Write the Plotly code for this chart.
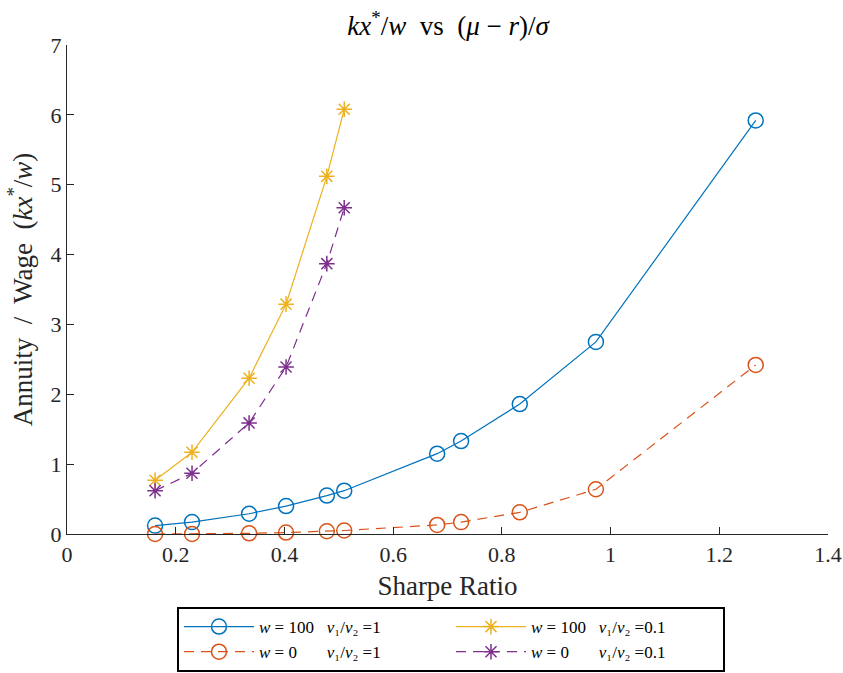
import plotly.graph_objects as go

sharpe = [0.162, 0.230, 0.335, 0.403, 0.478, 0.510, 0.681, 0.725, 0.833, 0.973, 1.267]
w100_v1 = [0.12, 0.17, 0.29, 0.40, 0.55, 0.62, 1.15, 1.33, 1.86, 2.75, 5.92]
w0_v1 = [0.0, 0.0, 0.01, 0.02, 0.04, 0.05, 0.13, 0.17, 0.31, 0.64, 2.42]
sharpe_short = [0.162, 0.230, 0.335, 0.403, 0.478, 0.510]
w100_v01 = [0.77, 1.17, 2.23, 3.29, 5.12, 6.08]
w0_v01 = [0.62, 0.87, 1.59, 2.39, 3.87, 4.67]

blue = "#0072BD"
orange = "#D95319"
yellow = "#EDB120"
purple = "#7E2F8E"
font_family = "Liberation Serif, DejaVu Serif, serif"

nb = "&nbsp;"
names = [
    f"<i>w</i> = 100 {nb*2}<i>v</i>₁/<i>v</i>₂ =1",
    f"<i>w</i> = 100 {nb*2}<i>v</i>₁/<i>v</i>₂ =0.1",
    f"<i>w</i> = 0 {nb*6}<i>v</i>₁/<i>v</i>₂ =1",
    f"<i>w</i> = 0 {nb*6}<i>v</i>₁/<i>v</i>₂ =0.1",
]

fig = go.Figure()
fig.add_trace(go.Scatter(x=sharpe, y=w100_v1, mode="lines+markers", name=names[0], cliponaxis=False,
                         line=dict(color=blue, width=1.2),
                         marker=dict(symbol="circle-open", size=15, color=blue, line=dict(width=1.5))))
fig.add_trace(go.Scatter(x=sharpe_short, y=w100_v01, mode="lines+markers", name=names[1], cliponaxis=False,
                         line=dict(color=yellow, width=1.2),
                         marker=dict(symbol="asterisk-open", size=13, color=yellow, line=dict(width=1.5))))
fig.add_trace(go.Scatter(x=sharpe, y=w0_v1, mode="lines+markers", name=names[2], cliponaxis=False,
                         line=dict(color=orange, width=1.2, dash="10px,7px"),
                         marker=dict(symbol="circle-open", size=15, color=orange, line=dict(width=1.5))))
fig.add_trace(go.Scatter(x=sharpe_short, y=w0_v01, mode="lines+markers", name=names[3], cliponaxis=False,
                         line=dict(color=purple, width=1.2, dash="10px,7px"),
                         marker=dict(symbol="asterisk-open", size=13, color=purple, line=dict(width=1.5))))

fig.update_layout(
    width=843, height=673,
    margin=dict(l=67, r=15, t=45, b=139, autoexpand=False),
    paper_bgcolor="white", plot_bgcolor="white",
    font=dict(family=font_family, size=22, color="#262626"),
    title=dict(text="<i>kx</i><sup>*</sup>/<i>w</i>&nbsp; vs &nbsp;(<i>μ</i> − <i>r</i>)/<i>σ</i>",
               x=0.5315, xanchor="center", y=0.962, yanchor="middle",
               font=dict(size=27, color="black")),
    showlegend=True,
    legend=dict(orientation="h", x=0.5046, xanchor="center", xref="paper",
                yref="container", y=0.098, yanchor="top",
                bordercolor="black", borderwidth=2, bgcolor="white",
                entrywidth=187, itemwidth=70, font=dict(size=17, color="black"),
                tracegroupgap=0, traceorder="normal"),
)
fig.update_xaxes(range=[0, 1.4], tickvals=[0, 0.2, 0.4, 0.6, 0.8, 1.0, 1.2, 1.4],
                 ticktext=["0", "0.2", "0.4", "0.6", "0.8", "1", "1.2", "1.4"],
                 ticks="inside", ticklen=7, tickcolor="#262626",
                 showline=True, linecolor="#262626", linewidth=1.2, mirror=False,
                 showgrid=False, zeroline=False,
                 title=dict(text="Sharpe Ratio", font=dict(size=27), standoff=10))
fig.update_yaxes(range=[0, 7], tickvals=[0, 1, 2, 3, 4, 5, 6, 7],
                 ticks="inside", ticklen=7, tickcolor="#262626",
                 showline=True, linecolor="#262626", linewidth=1.2, mirror=False,
                 showgrid=False, zeroline=False,
                 title=dict(text="Annuity &nbsp;/&nbsp; Wage &nbsp;(<i>kx</i><sup>*</sup>/<i>w</i>)", font=dict(size=27), standoff=10))

fig.write_html("out.html")
